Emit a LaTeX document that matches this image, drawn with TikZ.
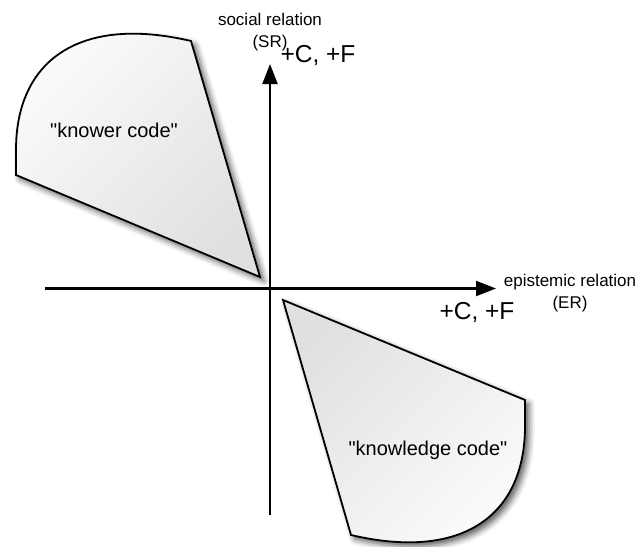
\documentclass[tikz,border=0pt]{standalone}
\usepackage{fontspec}
\setmainfont{Liberation Sans}
\usetikzlibrary{arrows.meta,shadows.blur}
\tikzset{
  axisline/.style={draw=black,line width=2.2pt,-{Triangle[length=20pt,width=15pt,fill=black]}},
  codeshape/.style={draw=black,line width=1.8pt,line join=miter,
    shading=axis,top color=gray!3,bottom color=gray!24,
    blur shadow={shadow xshift=4pt,shadow yshift=-4pt,shadow blur radius=6pt,shadow opacity=65}},
  axlabel/.style={font=\fontsize{17}{22}\selectfont,align=center,inner sep=0pt},
  cflabel/.style={font=\fontsize{24.5}{28}\selectfont,inner sep=0pt},
  codelabel/.style={font=\fontsize{20}{24}\selectfont,inner sep=0pt}
}
\begin{document}
\begin{tikzpicture}[x=1pt,y=-1pt]
\useasboundingbox (0,0) rectangle (644,546);

% the "knower code" region (upper left quadrant)
\path[codeshape,shading angle=45]
  (191,41) .. controls (80,15) and (16,60) .. (16,150)
  -- (16,175) -- (260,277) -- cycle;

% the "knowledge code" region (lower right quadrant)
\path[codeshape,shading angle=225]
  (351,535) .. controls (462,561) and (525,516) .. (525,426)
  -- (525,400) -- (283,300) -- cycle;

% axes
\coordinate (xstart) at (45,288.5);
\coordinate (xend) at (496,288.5);
\coordinate (ystart) at (270,515);
\coordinate (yend) at (270,64);
\draw[axisline] (xstart) -- (xend);
\draw[axisline] (ystart) -- (yend);

% labels
\node[axlabel] (sr) at (270,32) {social relation\\(SR)};
\node[axlabel] (er) at (570,293) {epistemic relation\\(ER)};
\node[cflabel] (cfy) at (318,56) {+C, +F};
\node[cflabel] (cfx) at (477,313) {+C, +F};
\node[codelabel] (knower) at (114,130) {\textquotedbl knower code\textquotedbl};
\node[codelabel] (knowledge) at (428,450) {\textquotedbl knowledge code\textquotedbl};
\end{tikzpicture}
\end{document}
